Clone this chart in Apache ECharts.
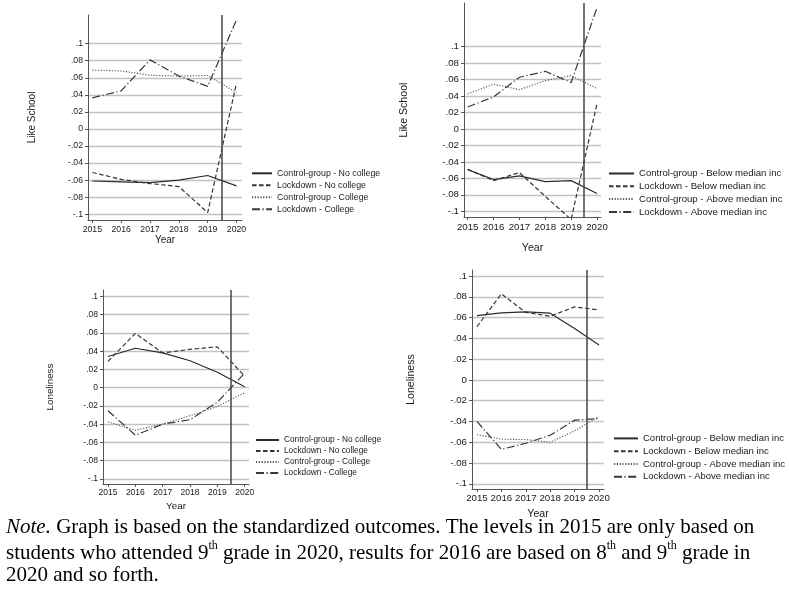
<!DOCTYPE html>
<html><head><meta charset="utf-8">
<script src="https://cdn.jsdelivr.net/npm/echarts@6/dist/echarts.min.js"></script>
<style>html,body{margin:0;padding:0;background:#fff}#c{width:789px;height:595px}</style>
</head><body><div id="c"></div>
<script>
// ---------- DATA ----------
const years = [2015, 2016, 2017, 2018, 2019, 2020];
const yTickValues = [-0.1, -0.08, -0.06, -0.04, -0.02, 0, 0.02, 0.04, 0.06, 0.08, 0.1];

const namesCollege = ['Control-group - No college', 'Lockdown - No college', 'Control-group - College', 'Lockdown - College'];
const namesIncome = ['Control-group - Below median inc', 'Lockdown - Below median inc', 'Control-group - Above median inc', 'Lockdown - Above median inc'];

// Panel 1: Like School, by parental college
const likeCtrlNoCollege = [-0.061, -0.062, -0.063, -0.060, -0.0545, -0.0667];
const likeLockNoCollege = [-0.051, -0.059, -0.064, -0.0675, -0.098, 0.0537];
const likeCtrlCollege = [0.069, 0.068, 0.063, 0.062, 0.0627, 0.0427];
const likeLockCollege = [0.0365, 0.0447, 0.081, 0.062, 0.050, 0.128];

// Panel 2: Like School, by income
const likeCtrlBelow = [-0.0494, -0.0615, -0.057, -0.064, -0.0628, -0.0785];
const likeLockBelow = [-0.049, -0.0628, -0.053, -0.082, -0.110, 0.0308];
const likeCtrlAbove = [0.0425, 0.0543, 0.0478, 0.0587, 0.0648, 0.049];
const likeLockAbove = [0.0267, 0.0389, 0.0628, 0.070, 0.0563, 0.1474];

// Panel 3: Loneliness, by parental college
const loneCtrlNoCollege = [0.0342, 0.0432, 0.0382, 0.0295, 0.0169, 0.001];
const loneLockNoCollege = [0.0288, 0.0595, 0.038, 0.042, 0.0447, 0.0126];
const loneCtrlCollege = [-0.0375, -0.0465, -0.040, -0.0306, -0.0205, -0.0054];
const loneLockCollege = [-0.0252, -0.052, -0.040, -0.035, -0.0159, 0.016];

// Panel 4: Loneliness, by income
const loneCtrlBelow = [0.0619, 0.0645, 0.0655, 0.0642, 0.0494, 0.0335];
const loneLockBelow = [0.0513, 0.0829, 0.065, 0.0613, 0.0703, 0.0674];
const loneCtrlAbove = [-0.0526, -0.0571, -0.0574, -0.060, -0.049, -0.0352];
const loneLockAbove = [-0.040, -0.0668, -0.061, -0.0532, -0.0387, -0.0371];

const cutoffYear = 2019.5;
const xTitle = 'Year';

const panels = [
  { yTitle: 'Like School', names: namesCollege, values: [likeCtrlNoCollege, likeLockNoCollege, likeCtrlCollege, likeLockCollege] },
  { yTitle: 'Like School', names: namesIncome, values: [likeCtrlBelow, likeLockBelow, likeCtrlAbove, likeLockAbove] },
  { yTitle: 'Loneliness', names: namesCollege, values: [loneCtrlNoCollege, loneLockNoCollege, loneCtrlCollege, loneLockCollege] },
  { yTitle: 'Loneliness', names: namesIncome, values: [loneCtrlBelow, loneLockBelow, loneCtrlAbove, loneLockAbove] }
];

// ---------- LAYOUT / STYLE ----------
const layout = [
  { left: 88, top: 15, width: 154, height: 205, xMin: 2014.85, xMax: 2020.19, yMin: -0.1067, yMax: 0.1336,
    tickFont: 8.7, nameFont: 10, xNameGap: 15.5, yNameGap: 51, xLabMargin: 5,
    legend: { left: 251, top: 167.3, iw: 20, lh: 12, fs: 8.8 } },
  { left: 464, top: 3, width: 137, height: 214, xMin: 2014.857, xMax: 2020.155, yMin: -0.107, yMax: 0.153,
    tickFont: 9.7, nameFont: 10.6, xNameGap: 26, yNameGap: 54, xLabMargin: 5,
    legend: { left: 608, top: 167.1, iw: 25, lh: 12.8, fs: 9.6 } },
  { left: 103, top: 290, width: 146, height: 194, xMin: 2014.817, xMax: 2020.157, yMin: -0.1055, yMax: 0.107,
    tickFont: 8.5, nameFont: 9.8, xNameGap: 17, yNameGap: 48, xLabMargin: 4,
    legend: { left: 255, top: 434.5, iw: 23, lh: 11, fs: 8.3 } },
  { left: 472, top: 270, width: 132, height: 219, xMin: 2014.796, xMax: 2020.204, yMin: -0.105, yMax: 0.1058,
    tickFont: 9.7, nameFont: 10.6, xNameGap: 19.7, yNameGap: 55, xLabMargin: 4,
    legend: { left: 613, top: 432, iw: 24, lh: 12.8, fs: 9.5 } }
];

const lineStyles = [
  { type: 'solid', color: '#2b2b2b', width: 1.2 },
  { type: [4.5, 2.5], color: '#353535', width: 1.2 },
  { type: [1.2, 1.6], color: '#555555', width: 1.1 },
  { type: [8, 2.5, 1.2, 2.5], color: '#383838', width: 1.2 }
];

const sans = '"Liberation Sans", Arial, sans-serif';
const serif = '"Liberation Serif", "Times New Roman", serif';
const textColor = '#1a1a1a';

function yFmt(v) {
  const r = Math.round(v * 100) / 100;
  if (r === 0) return '0';
  return String(r).replace('0.', '.');
}

const grids = [], xAxes = [], yAxes = [], series = [], legends = [];
panels.forEach((p, i) => {
  const L = layout[i];
  grids.push({ left: L.left, top: L.top, width: L.width, height: L.height });
  xAxes.push({
    type: 'value', gridIndex: i, min: L.xMin, max: L.xMax,
    name: xTitle, nameLocation: 'middle', nameGap: L.xNameGap,
    nameTextStyle: { fontSize: L.nameFont, fontFamily: sans, color: textColor },
    axisLine: { show: true, onZero: false, lineStyle: { color: '#555', width: 1 } },
    axisTick: { show: true, customValues: years, length: 3, lineStyle: { color: '#555', width: 1 } },
    axisLabel: { customValues: years, formatter: v => String(Math.round(v)), fontSize: L.tickFont, fontFamily: sans, color: textColor, margin: L.xLabMargin },
    splitLine: { show: false }
  });
  yAxes.push({
    type: 'value', gridIndex: i, min: L.yMin, max: L.yMax,
    name: p.yTitle, nameLocation: 'middle', nameGap: L.yNameGap,
    nameTextStyle: { fontSize: L.nameFont, fontFamily: sans, color: textColor },
    axisLine: { show: true, onZero: false, lineStyle: { color: '#555', width: 1 } },
    axisTick: { show: true, customValues: yTickValues, length: 3, lineStyle: { color: '#555', width: 1 } },
    axisLabel: { customValues: yTickValues, formatter: yFmt, fontSize: L.tickFont, fontFamily: sans, color: textColor, margin: 5 },
    splitLine: { show: true, lineStyle: { color: '#c2c2c2', width: 1.3 } }
  });
  p.values.forEach((vals, j) => {
    const s = {
      type: 'line', name: p.names[j], xAxisIndex: i, yAxisIndex: i,
      data: years.map((y, k) => [y, vals[k]]),
      symbol: 'none', lineStyle: lineStyles[j], itemStyle: { color: lineStyles[j].color },
      z: 3, silent: true
    };
    if (j === 0) {
      s.markLine = {
        silent: true, symbol: ['none', 'none'], label: { show: false },
        lineStyle: { color: '#444', width: 1.5, type: 'solid' },
        data: [{ xAxis: cutoffYear }]
      };
    }
    series.push(s);
  });
  legends.push({
    orient: 'vertical', left: L.legend.left, top: L.legend.top, padding: 0, itemGap: 0,
    itemWidth: L.legend.iw, itemHeight: 8, selectedMode: false,
    data: p.names,
    itemStyle: { color: 'rgba(0,0,0,0)', borderColor: 'rgba(0,0,0,0)', borderWidth: 0 },
    textStyle: { fontSize: L.legend.fs, fontFamily: sans, color: textColor, lineHeight: L.legend.lh }
  });
});

const noteRich = {
  i: { fontStyle: 'italic', fontSize: 21, fontFamily: serif, fill: '#000', lineHeight: 24, verticalAlign: 'bottom' },
  n: { fontSize: 21, fontFamily: serif, fill: '#000', lineHeight: 24, verticalAlign: 'bottom' },
  s: { fontSize: 12, fontFamily: serif, fill: '#000', lineHeight: 13, verticalAlign: 'top' }
};
const noteLines = [
  '{i|Note.}{n| Graph is based on the standardized outcomes. The levels in 2015 are only based on}',
  '{n|students who attended 9}{s|th}{n| grade in 2020, results for 2016 are based on 8}{s|th}{n| and 9}{s|th}{n| grade in}',
  '{n|2020 and so forth.}'
];
const noteTops = [516.5, 539.5, 565];

const option = {
  animation: false,
  backgroundColor: '#fff',
  grid: grids, xAxis: xAxes, yAxis: yAxes, series: series, legend: legends,
  graphic: noteLines.map((t, k) => ({
    type: 'text', left: 6, top: noteTops[k], silent: true,
    style: { text: t, rich: noteRich, fill: '#000' }
  }))
};

const chart = echarts.init(document.getElementById('c'), null, { renderer: 'canvas' });
chart.setOption(option);
</script>
</body></html>
